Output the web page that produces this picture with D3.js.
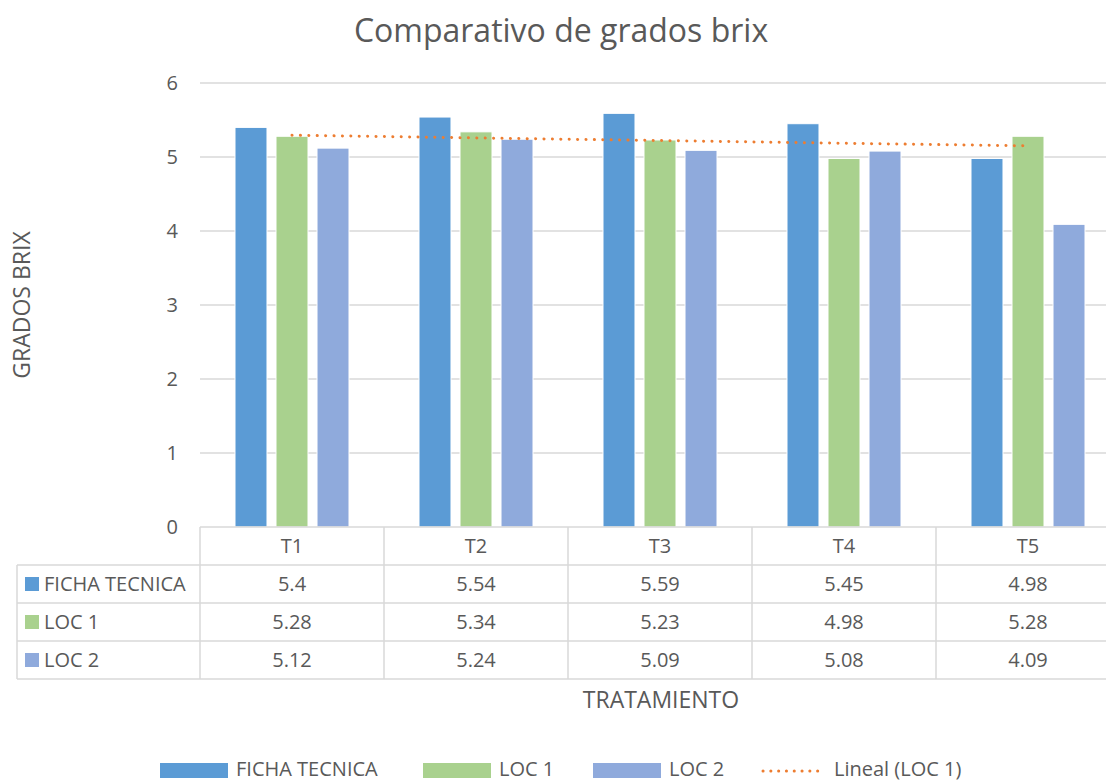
<!DOCTYPE html>
<html>
<head>
<meta charset="utf-8">
<script src="https://cdn.jsdelivr.net/npm/d3@7"></script>
<style>
body { margin: 0; background: #fff; }
svg { display: block; overflow: hidden; }
text { font-family: "Open Sans", "Noto Sans", sans-serif; fill: #595959; }
</style>
</head>
<body>
<div class="canvas"></div>
<script>
var categories = ["T1", "T2", "T3", "T4", "T5"];
var seriesNames = ["FICHA TECNICA", "LOC 1", "LOC 2"];
var fichaTecnica = [5.4, 5.54, 5.59, 5.45, 4.98];
var loc1 = [5.28, 5.34, 5.23, 4.98, 5.28];
var loc2 = [5.12, 5.24, 5.09, 5.08, 4.09];
var yTicks = [0, 1, 2, 3, 4, 5, 6];
var colors = ["#5B9BD5", "#A9D18E", "#8FAADC"];
var trendColor = "#ED7D31";

var allSeries = [fichaTecnica, loc1, loc2];

var svg = d3.select(".canvas")
  .append("svg")
  .attr("width", 1106)
  .attr("height", 783);

// scales
var x0 = d3.scaleBand().domain(categories).range([200, 1120]).padding(0);
var x1 = d3.scaleBand().domain(seriesNames).range([35, 149]).paddingInner(0.22);
var y = d3.scaleLinear().domain([0, 6]).range([527, 83]);

// title
svg.append("text")
  .attr("x", 561)
  .attr("y", 42)
  .attr("text-anchor", "middle")
  .attr("font-size", "32px")
  .text("Comparativo de grados brix");

// gridlines
svg.append("g")
  .selectAll("line")
  .data(yTicks.filter(function(d){ return d > 0; }))
  .enter().append("line")
  .attr("x1", 200)
  .attr("x2", 1120)
  .attr("y1", function(d){ return y(d); })
  .attr("y2", function(d){ return y(d); })
  .attr("stroke", "#d9d9d9")
  .attr("stroke-width", 1.5);

// y tick labels
svg.append("g")
  .selectAll("text")
  .data(yTicks)
  .enter().append("text")
  .attr("x", 178)
  .attr("y", function(d){ return y(d) + 7; })
  .attr("text-anchor", "end")
  .attr("font-size", "20px")
  .text(function(d){ return d; });

// y axis title
svg.append("text")
  .attr("transform", "translate(30,305) rotate(-90)")
  .attr("text-anchor", "middle")
  .attr("font-size", "23px")
  .text("GRADOS BRIX");

// bars
var groups = svg.append("g")
  .selectAll("g")
  .data(categories)
  .enter().append("g")
  .attr("transform", function(d){ return "translate(" + x0(d) + ",0)"; });

groups.selectAll("rect")
  .data(function(c, i){
    return seriesNames.map(function(s, j){ return { s: s, v: allSeries[j][i], j: j }; });
  })
  .enter().append("rect")
  .attr("x", function(d){ return x1(d.s); })
  .attr("width", x1.bandwidth())
  .attr("y", function(d){ return y(d.v); })
  .attr("height", function(d){ return y(0) - y(d.v); })
  .attr("fill", function(d){ return colors[d.j]; })
  .attr("stroke", "#ffffff")
  .attr("stroke-width", 1);

// linear trendline on LOC 1 (least squares)
var n = loc1.length;
var xs = loc1.map(function(d, i){ return i + 1; });
var mx = d3.mean(xs), my = d3.mean(loc1);
var slope = d3.sum(xs, function(xv, i){ return (xv - mx) * (loc1[i] - my); }) /
            d3.sum(xs, function(xv){ return (xv - mx) * (xv - mx); });
var icpt = my - slope * mx;
var trendPts = [0, n - 1].map(function(i){
  return [x0(categories[i]) + x0.bandwidth() / 2, y(icpt + slope * (i + 1))];
});
svg.append("path")
  .attr("d", d3.line()(trendPts))
  .attr("fill", "none")
  .attr("stroke", trendColor)
  .attr("stroke-width", 3)
  .attr("stroke-linecap", "round")
  .attr("stroke-dasharray", "0.1 8.3");

// data table
var rowTops = [527, 565, 603, 641, 679];
var tableLeft = 17;
var tbl = svg.append("g");

// horizontal lines
tbl.append("line").attr("x1", 200).attr("x2", 1120).attr("y1", rowTops[0]).attr("y2", rowTops[0])
  .attr("stroke", "#d9d9d9").attr("stroke-width", 1.5);
tbl.selectAll("line.h")
  .data(rowTops.slice(1))
  .enter().append("line")
  .attr("class", "h")
  .attr("x1", tableLeft).attr("x2", 1120)
  .attr("y1", function(d){ return d; }).attr("y2", function(d){ return d; })
  .attr("stroke", "#d9d9d9").attr("stroke-width", 1.5);

// vertical lines
var vx = categories.map(function(c){ return x0(c); }).concat([1120]);
tbl.selectAll("line.v")
  .data(vx)
  .enter().append("line")
  .attr("class", "v")
  .attr("x1", function(d){ return d; }).attr("x2", function(d){ return d; })
  .attr("y1", rowTops[0]).attr("y2", rowTops[4])
  .attr("stroke", "#d9d9d9").attr("stroke-width", 1.5);
tbl.append("line")
  .attr("x1", tableLeft).attr("x2", tableLeft)
  .attr("y1", rowTops[1]).attr("y2", rowTops[4])
  .attr("stroke", "#d9d9d9").attr("stroke-width", 1.5);

// header labels
tbl.selectAll("text.hdr")
  .data(categories)
  .enter().append("text")
  .attr("class", "hdr")
  .attr("x", function(d){ return x0(d) + x0.bandwidth() / 2; })
  .attr("y", 553)
  .attr("text-anchor", "middle")
  .attr("font-size", "20px")
  .text(function(d){ return d; });

// row labels with keys
seriesNames.forEach(function(s, j){
  var top = rowTops[j + 1];
  tbl.append("rect")
    .attr("x", 25).attr("y", top + 12)
    .attr("width", 14).attr("height", 14)
    .attr("fill", colors[j]);
  tbl.append("text")
    .attr("x", 44).attr("y", top + 26)
    .attr("font-size", "20px")
    .text(s);
  tbl.selectAll("text.v" + j)
    .data(allSeries[j])
    .enter().append("text")
    .attr("class", "v" + j)
    .attr("x", function(d, i){ return x0(categories[i]) + x0.bandwidth() / 2; })
    .attr("y", top + 26)
    .attr("text-anchor", "middle")
    .attr("font-size", "20px")
    .text(function(d){ return d; });
});

// x axis title
svg.append("text")
  .attr("x", 661)
  .attr("y", 708)
  .attr("text-anchor", "middle")
  .attr("font-size", "23px")
  .text("TRATAMIENTO");

// legend
var legendItems = [
  { label: "FICHA TECNICA", x: 160, color: colors[0], type: "bar" },
  { label: "LOC 1", x: 423, color: colors[1], type: "bar" },
  { label: "LOC 2", x: 593, color: colors[2], type: "bar" },
  { label: "Lineal (LOC 1)", x: 762, color: trendColor, type: "line" }
];
var leg = svg.append("g");
legendItems.forEach(function(d){
  if (d.type === "bar") {
    leg.append("rect")
      .attr("x", d.x).attr("y", 763)
      .attr("width", 68).attr("height", 15)
      .attr("fill", d.color);
    leg.append("text")
      .attr("x", d.x + 76).attr("y", 776)
      .attr("font-size", "20px")
      .text(d.label);
  } else {
    leg.append("line")
      .attr("x1", d.x + 1).attr("x2", d.x + 63)
      .attr("y1", 771).attr("y2", 771)
      .attr("stroke", d.color)
      .attr("stroke-width", 3)
      .attr("stroke-linecap", "round")
      .attr("stroke-dasharray", "0.1 7.7");
    leg.append("text")
      .attr("x", d.x + 72).attr("y", 776)
      .attr("font-size", "20px")
      .text(d.label);
  }
});
</script>
</body>
</html>
